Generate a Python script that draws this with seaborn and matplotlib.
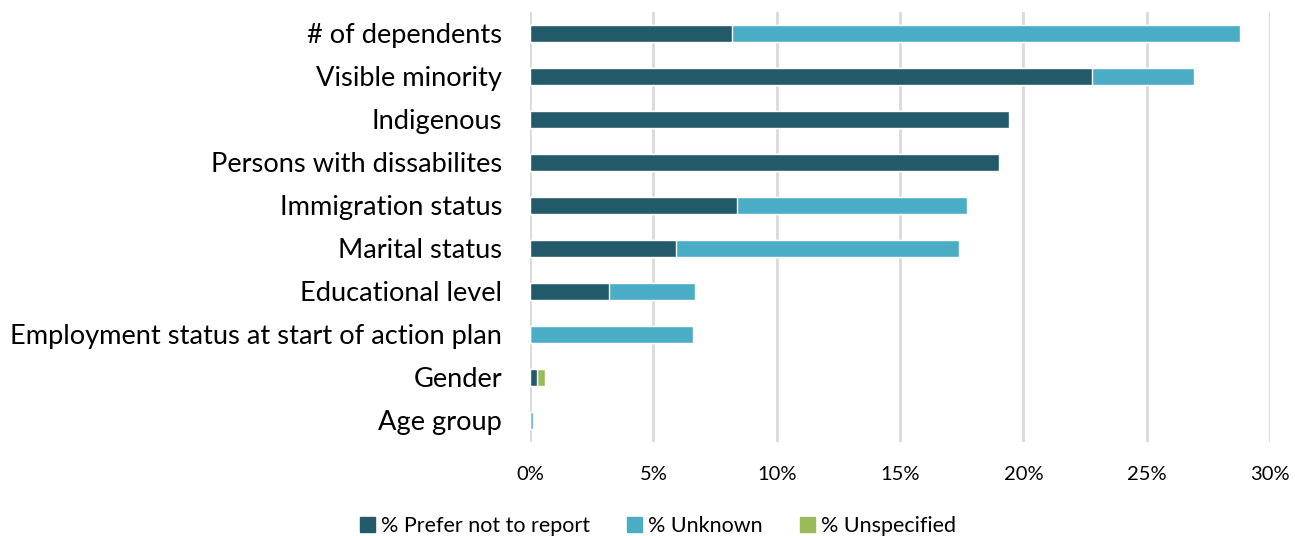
import matplotlib
matplotlib.use("Agg")
import matplotlib.pyplot as plt
import seaborn as sns
import numpy as np
import pandas as pd
from matplotlib.patches import Patch

categories = ["# of dependents", "Visible minority", "Indigenous", "Persons with dissabilites",
              "Immigration status", "Marital status", "Educational level",
              "Employment status at start of action plan", "Gender", "Age group"]
prefer_not = [8.2, 22.8, 19.4, 19.0, 8.4, 5.9, 3.2, 0.0, 0.3, 0.0]
unknown = [20.6, 4.1, 0.0, 0.0, 9.3, 11.5, 3.5, 6.6, 0.0, 0.12]
unspecified = [0.0, 0.0, 0.0, 0.0, 0.0, 0.0, 0.0, 0.0, 0.3, 0.0]
xticks = [0, 5, 10, 15, 20, 25, 30]

c_dark = "#235a69"
c_light = "#4bacc6"
c_green = "#9bbb59"

sns.set_theme(style="white")
plt.rcParams['font.family'] = ['Lato', 'DejaVu Sans']
plt.rcParams['text.color'] = 'black'
plt.rcParams['xtick.color'] = 'black'
plt.rcParams['ytick.color'] = 'black'

df = pd.DataFrame({"cat": categories, "p": prefer_not, "u": unknown, "s": unspecified})
df["pu"] = df["p"] + df["u"]
df["all"] = df["pu"] + df["s"]

fig = plt.figure(figsize=(12.95, 5.36), dpi=100)
ax = fig.add_axes([530/1295, 1-442/536, 740/1295, 430/536])

w = 0.40
sns.barplot(data=df, y="cat", x="all", color=c_green, orient="h", width=w, ax=ax, saturation=1, order=categories)
sns.barplot(data=df, y="cat", x="pu", color=c_light, orient="h", width=w, ax=ax, saturation=1, order=categories)
sns.barplot(data=df, y="cat", x="p", color=c_dark, orient="h", width=w, ax=ax, saturation=1, order=categories)

ax.set_xlim(0, 30)
ax.set_ylim(9.5, -0.5)
ax.set_xticks(xticks)
ax.set_xticklabels([f"{t}%" for t in xticks], fontsize=14.5, color='black')
ax.tick_params(axis='x', length=0, pad=17)
ax.tick_params(axis='y', length=0, pad=20, labelsize=19.6, labelcolor='black')
ax.set_xlabel("")
ax.set_ylabel("")
for s in ax.spines.values():
    s.set_visible(False)
ax.grid(axis='x', color="#d9d9d9", linewidth=2)
ax.set_axisbelow(True)

handles = [Patch(color=c_dark, label="% Prefer not to report"),
           Patch(color=c_light, label="% Unknown"),
           Patch(color=c_green, label="% Unspecified")]
leg = fig.legend(handles=handles, loc="center", bbox_to_anchor=(658/1295, 1-526/536), ncol=3,
           frameon=False, fontsize=15.5, handlelength=0.7, handleheight=0.7,
           handletextpad=0.3, columnspacing=1.7)
for t in leg.get_texts():
    t.set_color('black')

fig.savefig("out.png", dpi=100)
